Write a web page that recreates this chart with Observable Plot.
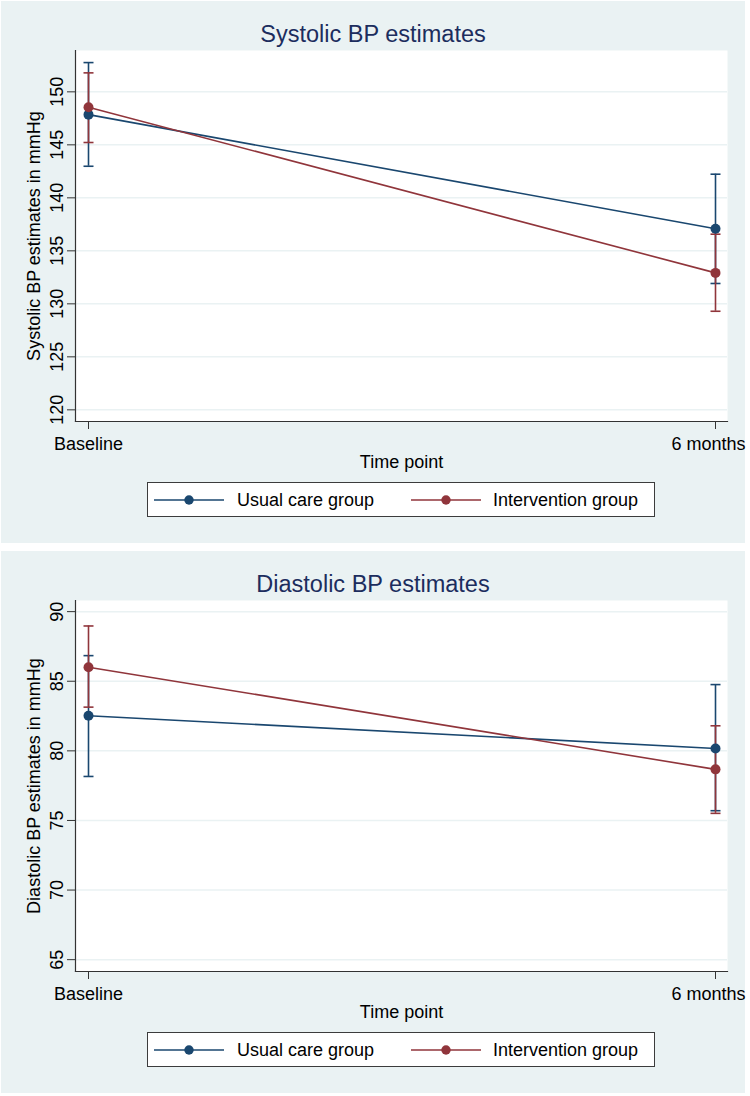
<!DOCTYPE html>
<html><head><meta charset="utf-8">
<script src="https://cdn.jsdelivr.net/npm/d3@7"></script>
<script src="https://cdn.jsdelivr.net/npm/@observablehq/plot@0.6"></script>
<style>
html,body{margin:0;padding:0;background:#fff;}
body{width:750px;height:1096px;position:relative;overflow:hidden;font-family:"Liberation Sans",Arial,Helvetica,sans-serif;}
.panel{position:absolute;left:1px;width:744px;height:542px;background:#eaf2f3;}
.panel > svg{position:absolute;left:0;top:0;}
.title{position:absolute;left:0;width:100%;top:21px;line-height:24px;font-size:23.5px;color:#1c2d5e;text-align:center;white-space:nowrap;}
.legend{position:absolute;left:146px;top:481px;width:508px;height:35px;box-sizing:border-box;border:1px solid #3c3c3c;background:#fff;}
.legend svg{position:absolute;top:0;}
.legend span{position:absolute;font-size:18px;line-height:20px;top:7px;color:#000;white-space:nowrap;}
</style></head><body>
<script>
// ---- data ----
const timePoints = ["Baseline", "6 months"];
const groups = ["Usual care group", "Intervention group"];
const groupColors = ["#1a476f", "#90353b"];

// Systolic BP estimates (mmHg)
const sysUsualEst = [147.85, 137.08];
const sysUsualLo  = [142.98, 131.92];
const sysUsualHi  = [152.76, 142.23];
const sysIntervEst = [148.55, 132.92];
const sysIntervLo  = [145.22, 129.30];
const sysIntervHi  = [151.79, 136.57];
const sysTicks = [120, 125, 130, 135, 140, 145, 150];

// Diastolic BP estimates (mmHg)
const diaUsualEst = [82.52, 80.17];
const diaUsualLo  = [78.16, 75.70];
const diaUsualHi  = [86.84, 84.76];
const diaIntervEst = [86.01, 78.67];
const diaIntervLo  = [83.14, 75.51];
const diaIntervHi  = [88.97, 81.80];
const diaTicks = [65, 70, 75, 80, 85, 90];

const panelTitles = ["Systolic BP estimates", "Diastolic BP estimates"];
const yLabels = ["Systolic BP estimates in mmHg", "Diastolic BP estimates in mmHg"];
const xLabel = "Time point";

function rowsFor(sets) {
  const rows = [];
  sets.forEach(([est, lo, hi], gi) => {
    timePoints.forEach((t, ti) => rows.push({time: t, group: groups[gi], est: est[ti], lo: lo[ti], hi: hi[ti]}));
  });
  return rows;
}
const sysRows = rowsFor([[sysUsualEst, sysUsualLo, sysUsualHi], [sysIntervEst, sysIntervLo, sysIntervHi]]);
const diaRows = rowsFor([[diaUsualEst, diaUsualLo, diaUsualHi], [diaIntervEst, diaIntervLo, diaIntervHi]]);

const FONT = '"Liberation Sans", Arial, Helvetica, sans-serif';
const AXIS = "#333";

// horizontal cap symbol for error bars
const capSymbol = {
  draw(ctx, size) {
    const w = Math.sqrt(size / Math.PI);
    ctx.moveTo(-w, 0);
    ctx.lineTo(w, 0);
  }
};

function makePlot(rows, yDomain, yTicks, yLabel) {
  const seriesMarks = [];
  groups.forEach(g => {
    const d = rows.filter(r => r.group === g);
    seriesMarks.push(
      Plot.ruleX(d, {x: "time", y1: "lo", y2: "hi", stroke: "group", strokeWidth: 1.6}),
      Plot.dot(d, {x: "time", y: "hi", stroke: "group", fill: "none", strokeWidth: 1.6, r: 5, symbol: capSymbol}),
      Plot.dot(d, {x: "time", y: "lo", stroke: "group", fill: "none", strokeWidth: 1.6, r: 5, symbol: capSymbol})
    );
  });
  groups.forEach(g => {
    const d = rows.filter(r => r.group === g);
    seriesMarks.push(
      Plot.line(d, {x: "time", y: "est", stroke: "group", strokeWidth: 1.6}),
      Plot.dot(d, {x: "time", y: "est", fill: "group", r: 5})
    );
  });
  return Plot.plot({
    width: 744, height: 542,
    marginLeft: 74, marginRight: 18, marginTop: 49, marginBottom: 122,
    style: {background: "transparent", fontFamily: FONT, fontSize: "18px", color: "#000", overflow: "visible"},
    x: {type: "point", domain: timePoints, padding: 0.0195, axis: null},
    y: {domain: yDomain, axis: null},
    color: {domain: groups, range: groupColors},
    marks: [
      Plot.frame({fill: "white", stroke: "none"}),
      Plot.gridY(yTicks, {stroke: "#eaf2f3", strokeOpacity: 1, strokeWidth: 1.5}),
      Plot.axisY(yTicks, {tickSize: 8, tickRotate: -90, tickPadding: 5, label: null, fontSize: 18, stroke: AXIS, fill: "#000"}),
      Plot.axisX({tickSize: 8, text: null, label: null, stroke: AXIS}),
      Plot.text([timePoints[0]], {x: d => d, text: d => d, frameAnchor: "bottom", lineAnchor: "top", dy: 16, fontSize: 18, fill: "#000"}),
      Plot.text([timePoints[1]], {x: d => d, text: d => d, frameAnchor: "bottom", lineAnchor: "top", dy: 16, dx: -7, fontSize: 18, fill: "#000"}),
      Plot.frame({anchor: "left", stroke: AXIS, strokeWidth: 1.2}),
      Plot.frame({anchor: "bottom", stroke: AXIS, strokeWidth: 1.2}),
      ...seriesMarks,
      Plot.text([yLabel], {text: d => d, frameAnchor: "left", textAnchor: "middle", dx: -41.5, rotate: -90, fontSize: 18, fill: "#000"}),
      Plot.text([xLabel], {text: d => d, frameAnchor: "bottom", textAnchor: "middle", dy: 46, fontSize: 18, fill: "#000"})
    ]
  });
}

function legendSwatch(color, left) {
  const ns = "http://www.w3.org/2000/svg";
  const svg = document.createElementNS(ns, "svg");
  svg.setAttribute("width", 72); svg.setAttribute("height", 35);
  svg.style.left = left + "px";
  const line = document.createElementNS(ns, "line");
  line.setAttribute("x1", 0); line.setAttribute("x2", 70); line.setAttribute("y1", 17); line.setAttribute("y2", 17);
  line.setAttribute("stroke", color); line.setAttribute("stroke-width", 1.6);
  const c = document.createElementNS(ns, "circle");
  c.setAttribute("cx", 35); c.setAttribute("cy", 17); c.setAttribute("r", 4.7); c.setAttribute("fill", color);
  svg.appendChild(line); svg.appendChild(c);
  return svg;
}

function makePanel(top, title, plot) {
  const p = document.createElement("div");
  p.className = "panel"; p.style.top = top + "px";
  p.appendChild(plot);
  const t = document.createElement("div");
  t.className = "title"; t.textContent = title;
  p.appendChild(t);
  const lg = document.createElement("div");
  lg.className = "legend";
  const swLeft = [6, 263], txtLeft = [89, 345];
  groups.forEach((g, i) => {
    lg.appendChild(legendSwatch(groupColors[i], swLeft[i]));
    const s = document.createElement("span");
    s.textContent = g; s.style.left = txtLeft[i] + "px";
    lg.appendChild(s);
  });
  p.appendChild(lg);
  document.body.appendChild(p);
}

makePanel(1, panelTitles[0], makePlot(sysRows, [118.9, 153.9], sysTicks, yLabels[0]));
makePanel(551, panelTitles[1], makePlot(diaRows, [64.15, 90.8], diaTicks, yLabels[1]));
</script>
</body></html>
